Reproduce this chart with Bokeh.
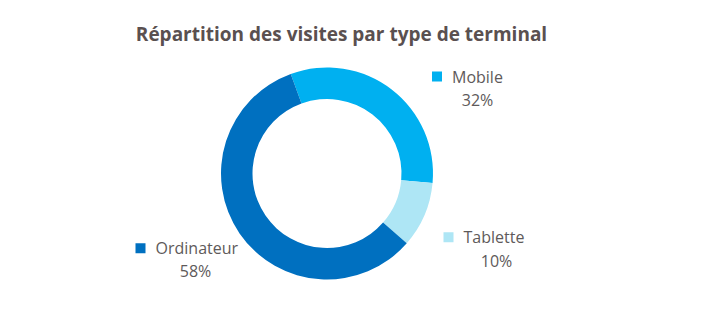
import math
from bokeh.plotting import figure
from bokeh.models import Range1d
from bokeh.core.properties import value
from bokeh.embed import file_html
from bokeh.resources import INLINE

# ---- data ----
title_text = "Répartition des visites par type de terminal"
categories = ["Mobile", "Tablette", "Ordinateur"]
shares = [32, 10, 58]
pct_labels = ["32%", "10%", "58%"]

# ---- style ----
colors = ["#00B0F0", "#AEE6F5", "#0070C0"]
text_color = "#5e5a5a"
title_color = "#5a5050"
font = "Open Sans"
W, H = 702, 336
cx_px, cy_px = 326.5, 173
r_out, r_in = 106, 74.5
start_deg = -20  # clockwise from 12 o'clock

# label layout (pixel positions of name start, name centre-y, pct centre-x, pct centre-y)
name_x = [451.5, 463, 155]
name_y = [76.5, 236.5, 247.5]
pct_x = [477, 496, 195]
pct_y = [99.5, 260, 270]


def Y(y):
    return H - y


p = figure(width=W, height=H, x_range=Range1d(0, W), y_range=Range1d(0, H),
           output_backend="svg", toolbar_location=None, min_border=0)
p.axis.visible = False
p.grid.visible = False
p.outline_line_color = None
p.background_fill_color = "white"
p.border_fill_color = "white"

total = sum(shares)
starts, ends = [], []
acc = start_deg
for s in shares:
    a0 = acc
    a1 = acc + s / total * 360
    starts.append(math.radians(90 - a0))
    ends.append(math.radians(90 - a1))
    acc = a1

p.annular_wedge(x=cx_px, y=Y(cy_px), inner_radius=r_in, outer_radius=r_out,
                start_angle=starts, end_angle=ends, direction="clock",
                fill_color=colors, line_color=None)

# legend squares
sq_y = [76, 236.7, 247.7]
p.rect(x=[x - 15 for x in name_x], y=[Y(y) for y in sq_y], width=10, height=10,
       fill_color=colors, line_color=None)

p.text(x=name_x, y=[Y(y) for y in name_y], text=categories,
       text_font=value(font), text_font_size="16px", text_color=text_color,
       text_align="left", text_baseline="middle")
p.text(x=pct_x, y=[Y(y) for y in pct_y], text=pct_labels,
       text_font=value(font), text_font_size="16px", text_color=text_color,
       text_align="center", text_baseline="middle")

p.text(x=[341], y=[Y(33)], text=[title_text],
       text_font=value(font), text_font_size="19px", text_font_style="bold",
       text_color=title_color, text_align="center", text_baseline="middle")

open("out.html", "w").write(file_html(p, INLINE))
